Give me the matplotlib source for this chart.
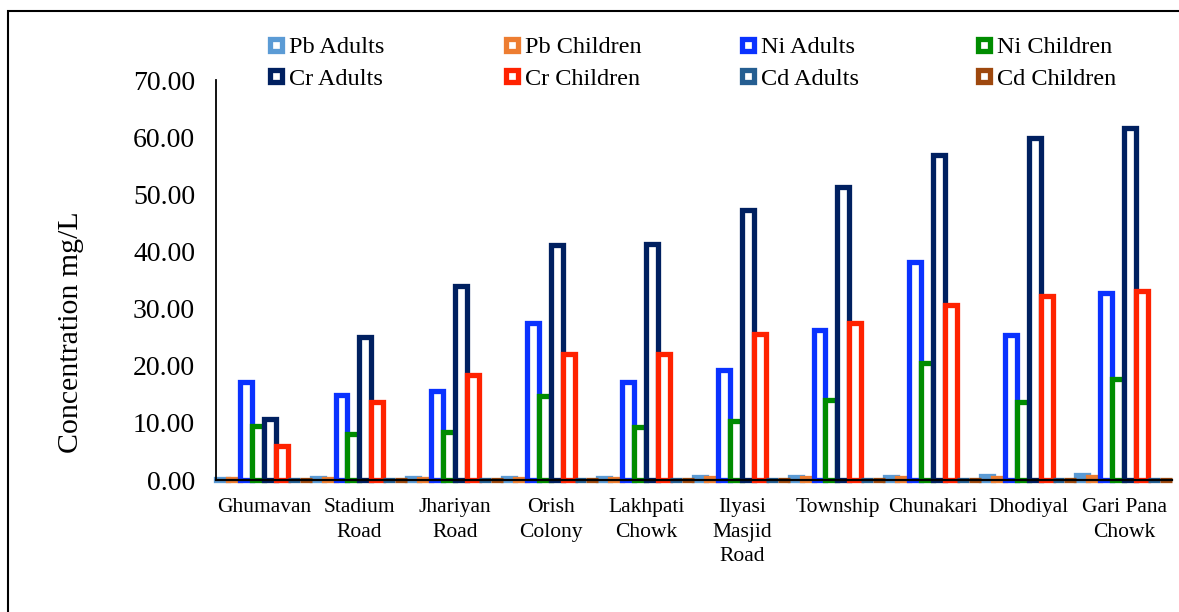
import matplotlib
matplotlib.use("Agg")
import matplotlib.pyplot as plt
from matplotlib.lines import Line2D
from matplotlib.patches import Rectangle
import numpy as np

plt.rcParams['font.family'] = ['Liberation Serif', 'DejaVu Serif']

categories = ["Ghumavan", "Stadium\nRoad", "Jhariyan\nRoad", "Orish\nColony", "Lakhpati\nChowk",
              "Ilyasi\nMasjid\nRoad", "Township", "Chunakari", "Dhodiyal", "Gari Pana\nChowk"]

pb_adults   = [0.26, 0.30, 0.35, 0.40, 0.40, 0.50, 0.55, 0.60, 0.65, 0.85]
pb_children = [0.15, 0.17, 0.20, 0.23, 0.25, 0.28, 0.30, 0.35, 0.38, 0.45]
ni_adults   = [17.2, 14.9, 15.6, 27.5, 17.2, 19.3, 26.3, 38.2, 25.4, 32.8]
ni_children = [9.4, 8.1, 8.4, 14.7, 9.3, 10.4, 14.0, 20.5, 13.7, 17.7]
cr_adults   = [10.7, 25.1, 34.0, 41.2, 41.3, 47.3, 51.3, 56.8, 59.9, 61.6]
cr_children = [5.9, 13.6, 18.3, 22.1, 22.1, 25.6, 27.5, 30.7, 32.2, 33.1]
cd_adults   = [0.03, 0.03, 0.03, 0.04, 0.04, 0.04, 0.05, 0.05, 0.05, 0.05]
cd_children = [0.05, 0.05, 0.05, 0.06, 0.06, 0.06, 0.07, 0.07, 0.07, 0.07]

series_names = ["Pb Adults", "Pb Children", "Ni Adults", "Ni Children",
                "Cr Adults", "Cr Children", "Cd Adults", "Cd Children"]
series_values = [pb_adults, pb_children, ni_adults, ni_children,
                 cr_adults, cr_children, cd_adults, cd_children]
colors = ["#5B9BD5", "#ED7D31", "#0A32FF", "#008C00",
          "#002060", "#FF2200", "#255E91", "#9E480E"]

fig = plt.figure(figsize=(11.79, 6.12), dpi=100)
ax = fig.add_axes([216/1179, 1-480/612, (1172-216)/1179, 400/612])

x = np.arange(len(categories))
n = len(series_names)
w = 1.0 / n
for i, (name, vals, c) in enumerate(zip(series_names, series_values, colors)):
    ax.bar(x - 0.5 + w * (i + 0.5), vals, width=w, facecolor='white', edgecolor=c,
           linewidth=3.8, clip_on=False, zorder=1 + i * 0.01, label=name)

ax.set_xlim(-0.5, len(categories) - 0.5)
ax.set_ylim(0, 70)
ax.set_yticks(np.arange(0, 71, 10))
ax.set_yticklabels([f"{v:.2f}" for v in np.arange(0, 71, 10)], fontsize=20)
ax.set_xticks(x)
ax.set_xticklabels(categories, fontsize=15.5, linespacing=1.4)
ax.tick_params(axis='both', length=0)
ax.tick_params(axis='y', pad=15)
ax.tick_params(axis='x', pad=13)
for s in ['top', 'right']:
    ax.spines[s].set_visible(False)
ax.spines['left'].set_linewidth(1.3)
ax.spines['bottom'].set_linewidth(1.6)
ax.spines['left'].set_zorder(5)
ax.spines['bottom'].set_zorder(5)
ax.set_ylabel("Concentration mg/L", fontsize=21.5)
ax.yaxis.set_label_coords(-0.138, 0.37)

# legend: four columns placed separately
col_x = [267/1179, 503/1179, 739/1179, 975/1179]
pairs = [(0, 4), (1, 5), (2, 6), (3, 7)]
for cx, (a, b) in zip(col_x, pairs):
    handles = [Line2D([], [], linestyle='none', marker='s', markersize=8.2,
                      markerfacecolor='white', markeredgecolor=colors[k], markeredgewidth=3.8)
               for k in (a, b)]
    leg = fig.legend(handles, [series_names[a], series_names[b]], loc='upper left',
                     bbox_to_anchor=(cx, 1 - 36/612), frameon=False, fontsize=17.5,
                     handlelength=0.7, handletextpad=0.2, labelspacing=0.4,
                     borderaxespad=0, borderpad=0)

# outer chart border (left and top visible)
fig.patches.append(Rectangle((8/1179, -0.1), 1.2, 1 - 11/612 + 0.1, transform=fig.transFigure,
                             fill=False, edgecolor='black', linewidth=1.5))

fig.savefig("out.png", dpi=100)
